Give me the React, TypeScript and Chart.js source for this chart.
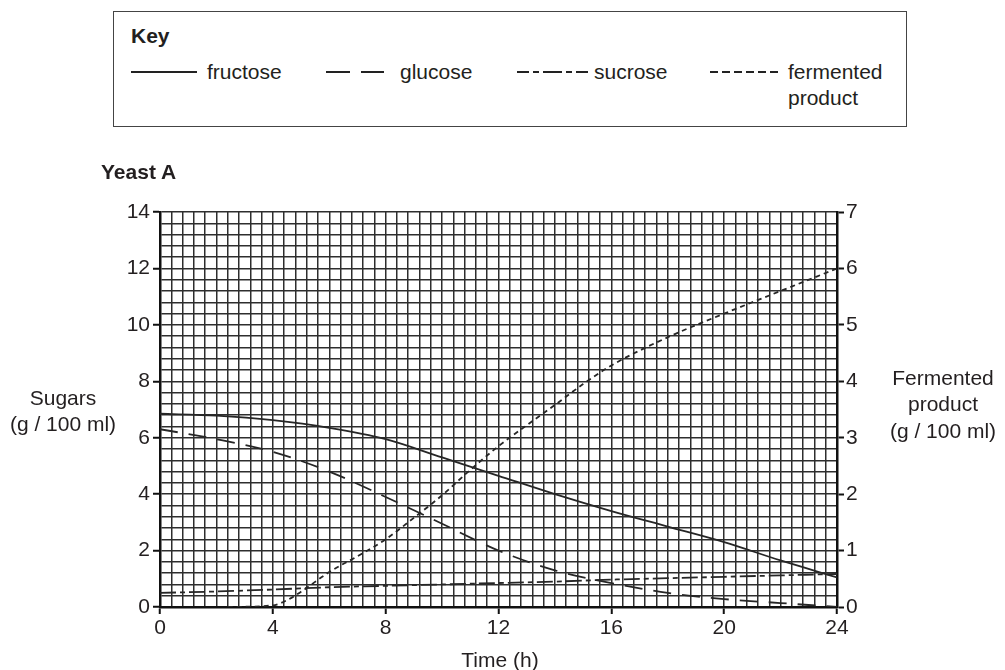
import React, { useEffect, useRef } from "react";
import { Chart, registerables } from "chart.js";

Chart.register(...registerables);

// ---- data ----
const timeHours = [0, 2, 4, 6, 8, 10, 12, 14, 16, 18, 20, 22, 24];
const fructose = [6.85, 6.78, 6.62, 6.35, 5.95, 5.3, 4.65, 4.0, 3.4, 2.85, 2.3, 1.65, 1.05];
const glucose = [6.3, 5.95, 5.5, 4.8, 3.9, 2.95, 2.0, 1.3, 0.85, 0.5, 0.28, 0.14, 0.0];
const sucrose = [0.5, 0.55, 0.62, 0.7, 0.75, 0.8, 0.85, 0.9, 0.97, 1.02, 1.07, 1.12, 1.17];
const fermentedTimes = [2.4, 4, 4.5, 5, 6, 7, 8, 9, 10, 11, 12, 13, 14, 15, 16, 18, 20, 22, 24];
const fermentedProduct = [0, 0.03, 0.12, 0.27, 0.62, 0.9, 1.2, 1.58, 1.98, 2.43, 2.85, 3.22, 3.58, 3.95, 4.28, 4.78, 5.2, 5.6, 6.0];

const xLabelEvery = 4;
const yLabelEvery = 2;
const gridStep = 0.4;

const FONT = "'Liberation Sans', Arial, Helvetica, sans-serif";
const TEXT = "#231f20";
const GRID = "#2e2e2e";
const LINE = "#262626";

const isMult = (v: number, m: number) => Math.abs(v / m - Math.round(v / m)) < 1e-6;

const pts = (xs: number[], ys: number[]) => xs.map((x, i) => ({ x, y: ys[i] }));

export default function App() {
  const ref = useRef<HTMLCanvasElement>(null);

  useEffect(() => {
    if (!ref.current) return;
    const tickFont = { family: FONT, size: 21 };
    const common = {
      borderColor: LINE,
      borderWidth: 1.8,
      pointRadius: 0,
      fill: false,
      tension: 0.4,
      cubicInterpolationMode: "monotone" as const,
    };
    const chart = new Chart(ref.current, {
      type: "line",
      data: {
        datasets: [
          { ...common, label: "fructose", data: pts(timeHours, fructose), yAxisID: "y" },
          { ...common, label: "glucose", data: pts(timeHours, glucose), borderDash: [18, 11], yAxisID: "y" },
          { ...common, label: "sucrose", data: pts(timeHours, sucrose), borderDash: [16, 4, 5, 4], yAxisID: "y" },
          { ...common, label: "fermented product", data: pts(fermentedTimes, fermentedProduct), borderDash: [5, 4], yAxisID: "y2" },
        ],
      },
      options: {
        responsive: false,
        animation: false,
        events: [],
        layout: { padding: { left: 100, right: 108, top: 212, bottom: 23 } },
        plugins: { legend: { display: false }, tooltip: { enabled: false } },
        scales: {
          x: {
            type: "linear",
            position: "bottom",
            min: 0,
            max: 24,
            ticks: {
              stepSize: gridStep,
              autoSkip: false,
              maxRotation: 0,
              padding: 2,
              color: TEXT,
              font: tickFont,
              callback: (v: any) => (isMult(Number(v), xLabelEvery) ? String(Math.round(Number(v))) : ""),
            },
            grid: {
              color: GRID,
              lineWidth: 1.5,
              tickLength: 7,
              tickWidth: 2,
              tickColor: (ctx: any) => (ctx.tick && isMult(ctx.tick.value, xLabelEvery) ? "#111" : "rgba(0,0,0,0)"),
            },
            border: { display: true, color: "#111", width: 2.5 },
            afterFit: (s: any) => {
              s.height = 40;
            },
          },
          y: {
            type: "linear",
            position: "left",
            min: 0,
            max: 14,
            ticks: {
              stepSize: gridStep,
              autoSkip: false,
              padding: 3,
              color: TEXT,
              font: tickFont,
              callback: (v: any) => (isMult(Number(v), yLabelEvery) ? String(Math.round(Number(v))) : ""),
            },
            grid: {
              color: GRID,
              lineWidth: 1.5,
              tickLength: 7,
              tickWidth: 2,
              tickColor: (ctx: any) => (ctx.tick && isMult(ctx.tick.value, yLabelEvery) ? "#111" : "rgba(0,0,0,0)"),
            },
            border: { display: true, color: "#111", width: 2.5 },
            afterFit: (s: any) => {
              s.width = 60;
            },
          },
          y2: {
            type: "linear",
            position: "right",
            min: 0,
            max: 7,
            ticks: { stepSize: 1, padding: 2, color: TEXT, font: tickFont },
            grid: { drawOnChartArea: false, tickLength: 7, tickWidth: 2, tickColor: "#111" },
            border: { display: true, color: "#111", width: 2.5 },
            afterFit: (s: any) => {
              s.width = 60;
            },
          },
        },
      },
    });
    return () => chart.destroy();
  }, []);

  const txt: React.CSSProperties = {
    position: "absolute",
    fontFamily: FONT,
    fontSize: 21,
    color: TEXT,
    lineHeight: "24px",
    whiteSpace: "nowrap",
  };
  const centered = (cx: number, cy: number, s: string, bold = false) => (
    <div style={{ ...txt, left: cx - 100, width: 200, textAlign: "center", top: cy - 12, fontWeight: bold ? "bold" : "normal" }}>{s}</div>
  );
  const leftText = (x: number, cy: number, s: string, bold = false) => (
    <div style={{ ...txt, left: x, top: cy - 12, fontWeight: bold ? "bold" : "normal" }}>{s}</div>
  );

  return (
    <div style={{ position: "absolute", left: 0, top: 0, width: 1005, height: 670, background: "#fff", overflow: "hidden" }}>
      {/* Key box */}
      <div
        style={{
          position: "absolute",
          left: 113,
          top: 11,
          width: 792,
          height: 114,
          border: "1.5px solid #444",
        }}
      />
      <svg style={{ position: "absolute", left: 0, top: 0 }} width={1005} height={140}>
        <line x1={131} y1={72} x2={197} y2={72} stroke="#222" strokeWidth={2} />
        <line x1={326} y1={72} x2={384} y2={72} stroke="#222" strokeWidth={2} strokeDasharray="24 11" />
        <line x1={517} y1={72} x2={588} y2={72} stroke="#222" strokeWidth={2} strokeDasharray="12 4 6 4 19 4 6 4 12" />
        <line x1={710} y1={72} x2={778} y2={72} stroke="#222" strokeWidth={2} strokeDasharray="8 4" />
      </svg>
      {leftText(131, 36, "Key", true)}
      {leftText(207, 72, "fructose")}
      {leftText(400, 72, "glucose")}
      {leftText(594, 72, "sucrose")}
      {leftText(788, 72, "fermented")}
      {leftText(788, 98, "product")}

      <canvas ref={ref} width={1005} height={670} style={{ position: "absolute", left: 0, top: 0, width: 1005, height: 670 }} />

      {leftText(101, 172, "Yeast A", true)}
      {centered(63, 398, "Sugars")}
      {centered(63, 424, "(g / 100 ml)")}
      {centered(943, 378, "Fermented")}
      {centered(943, 404, "product")}
      {centered(943, 431, "(g / 100 ml)")}
      {centered(500, 660, "Time (h)")}
    </div>
  );
}
